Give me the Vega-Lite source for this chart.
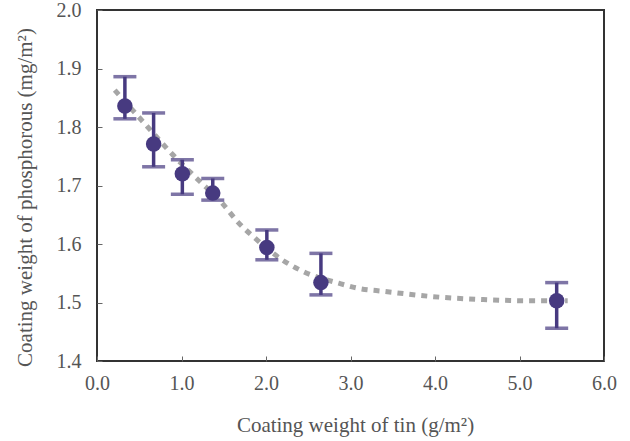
{
  "$schema": "https://vega.github.io/schema/vega-lite/v6.json",
  "autosize": {"type": "none"},
  "padding": {"left": 97, "top": 10, "right": 26, "bottom": 80},
  "width": 507,
  "height": 351,
  "background": "white",
  "config": {
    "view": {"stroke": "#333333", "strokeWidth": 2},
    "axis": {
      "grid": false,
      "domain": false,
      "tickColor": "#666666",
      "tickSize": -5,
      "tickWidth": 1,
      "labelFlush": false,
      "labelOverlap": false,
      "labelFont": "Liberation Serif",
      "labelFontSize": 20,
      "labelColor": "#555555",
      "titleFont": "Liberation Serif",
      "titleFontSize": 21,
      "titleFontWeight": "normal",
      "titleColor": "#555555"
    }
  },
  "datasets": {
    "trend": [
      {"x": 0.21, "y": 1.863},
      {"x": 0.6, "y": 1.8},
      {"x": 0.88, "y": 1.755},
      {"x": 1.18, "y": 1.712},
      {"x": 1.48, "y": 1.67},
      {"x": 1.67, "y": 1.637},
      {"x": 1.87, "y": 1.61},
      {"x": 2.19, "y": 1.573},
      {"x": 2.44, "y": 1.553},
      {"x": 2.86, "y": 1.533},
      {"x": 3.1, "y": 1.524},
      {"x": 3.4, "y": 1.519},
      {"x": 3.98, "y": 1.51},
      {"x": 4.57, "y": 1.505},
      {"x": 5.12, "y": 1.503},
      {"x": 5.57, "y": 1.503}
    ],
    "obs": [
      {"x": 0.33, "y": 1.836, "lo": 1.814, "hi": 1.886},
      {"x": 0.67, "y": 1.771, "lo": 1.732, "hi": 1.824},
      {"x": 1.01, "y": 1.72, "lo": 1.685, "hi": 1.744},
      {"x": 1.37, "y": 1.687, "lo": 1.675, "hi": 1.712},
      {"x": 2.01, "y": 1.594, "lo": 1.573, "hi": 1.624},
      {"x": 2.65, "y": 1.534, "lo": 1.513, "hi": 1.584},
      {"x": 5.44, "y": 1.503, "lo": 1.456, "hi": 1.534}
    ]
  },
  "layer": [
    {
      "data": {"name": "trend"},
      "mark": {"type": "line", "color": "#a6a6a6", "strokeWidth": 5, "strokeDash": [6, 6], "strokeCap": "butt", "interpolate": "monotone"},
      "encoding": {
        "x": {"field": "x", "type": "quantitative", "scale": {"domain": [0, 6], "nice": false, "zero": false},
          "axis": {"values": [0, 1, 2, 3, 4, 5, 6], "format": ".1f", "labelPadding": 17, "title": "Coating weight of tin (g/m²)", "titlePadding": 21, "titleX": 258}},
        "y": {"field": "y", "type": "quantitative", "scale": {"domain": [1.4, 2.0], "nice": false, "zero": false},
          "axis": {"values": [1.4, 1.5, 1.6, 1.7, 1.8, 1.9, 2.0], "format": ".1f", "labelPadding": 21, "title": "Coating weight of phosphorous (mg/m²)", "titlePadding": 21, "titleY": 187}}
      }
    },
    {
      "data": {"name": "obs"},
      "mark": {"type": "errorbar", "color": "#473a80", "thickness": 3.5, "ticks": {"size": 23, "thickness": 3.5, "color": "#473a80"}},
      "encoding": {
        "x": {"field": "x", "type": "quantitative", "title": "Coating weight of tin (g/m²)"},
        "y": {"field": "lo", "type": "quantitative", "title": "Coating weight of phosphorous (mg/m²)"},
        "y2": {"field": "hi"}
      }
    },
    {
      "data": {"name": "obs"},
      "mark": {"type": "circle", "color": "#473a80", "opacity": 1, "size": 240},
      "encoding": {
        "x": {"field": "x", "type": "quantitative", "title": "Coating weight of tin (g/m²)"},
        "y": {"field": "y", "type": "quantitative", "title": "Coating weight of phosphorous (mg/m²)"}
      }
    }
  ]
}
